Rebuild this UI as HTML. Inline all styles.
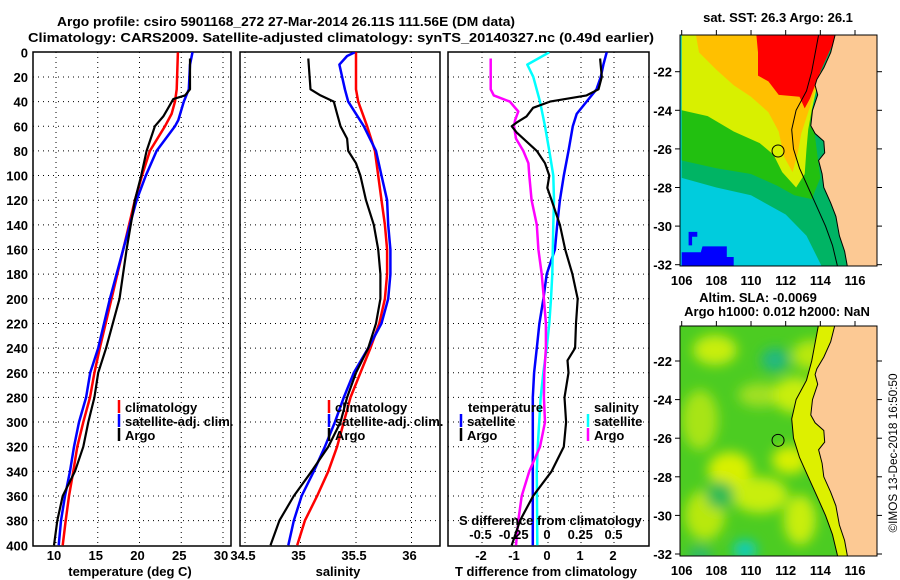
<!DOCTYPE html>
<html><head><meta charset="utf-8"><style>
html,body{margin:0;padding:0;background:#fff;}
svg{display:block;font-family:"Liberation Sans",Arial,sans-serif;}
.t{font-weight:bold;font-size:13px;fill:#000;}
</style></head><body>
<svg id="fig" width="900" height="580" viewBox="0 0 900 580" xmlns="http://www.w3.org/2000/svg">
<defs>
<clipPath id="c1"><rect x="33" y="52" width="198" height="494"/></clipPath>
<clipPath id="c2"><rect x="240" y="52" width="200" height="494"/></clipPath>
<clipPath id="c3"><rect x="448" y="52" width="201" height="494"/></clipPath>
<clipPath id="m1"><rect x="680" y="35" width="197" height="231"/></clipPath>
<clipPath id="m2"><rect x="680" y="326" width="197" height="230"/></clipPath>
<filter id="bl" x="-50%" y="-50%" width="200%" height="200%"><feGaussianBlur stdDeviation="6"/></filter>
</defs>
<text class="t" x="57" y="26" font-size="14" textLength="458" lengthAdjust="spacingAndGlyphs">Argo profile: csiro 5901168_272 27-Mar-2014 26.11S 111.56E (DM data)</text>
<text class="t" x="28" y="42" font-size="14" textLength="626" lengthAdjust="spacingAndGlyphs">Climatology: CARS2009. Satellite-adjusted climatology: synTS_20140327.nc (0.49d earlier)</text>
<g id="panels"></g>
<g id="maps"></g>
<text transform="translate(897,453) rotate(-90)" text-anchor="middle" font-size="12" textLength="159" lengthAdjust="spacingAndGlyphs">©IMOS 13-Dec-2018 16:50:50</text>
</svg>
<script>
// ---------- data ----------
const depthTicks=[0,20,40,60,80,100,120,140,160,180,200,220,240,260,280,300,320,340,360,380,400];
const tempTicks=[10,15,20,25,30];
const salTicks=[34.5,35,35.5,36];
const salTickLabels=["34.5","35","35.5","36"];
const tdiffTicks=[-2,-1,0,1,2];
const sdiffTicks=[-0.5,-0.25,0,0.25,0.5];
const sdiffTickLabels=["-0.5","-0.25","0","0.25","0.5"];

const tClimDepth=[0,30,40,50,60,80,100,120,160,200,240,260,280,300,320,340,360,380,400];
const tClim=[24.6,24.45,24.25,23.85,23.05,21.25,20.3,19.45,18.05,16.65,15.25,14.6,14.07,13.27,12.55,12.07,11.56,11.16,10.8];
const tSatDepth=[0,10,30,40,55,60,80,100,120,160,200,240,260,280,300,320,340,360,380,400];
const tSat=[26.35,26.05,25.9,25.3,24.65,24.25,22.05,20.75,19.65,18.05,16.45,15.05,14.1,13.6,12.75,12.15,11.68,11.08,10.6,10.32];
const tArgoDepth=[5,30,35,38,45,52,60,80,100,120,160,200,240,260,280,300,320,340,360,380,400];
const tArgo=[26.05,26.05,25.45,24.05,23.45,22.85,21.85,20.85,20.2,19.45,18.45,17.6,16.0,15.05,14.6,13.87,13.27,12.27,10.8,10.16,9.76];

const sClimDepth=[0,30,40,60,80,100,120,140,160,180,200,220,240,260,280,300,320,340,360,380,400];
const sClim=[35.5,35.5,35.52,35.6,35.67,35.7,35.73,35.76,35.78,35.78,35.76,35.71,35.63,35.54,35.45,35.39,35.33,35.25,35.15,35.04,34.97];
const sSatDepth=[0,3,10,30,40,60,80,100,120,140,160,180,200,220,240,260,280,300,320,340,360,380,400];
const sSat=[35.49,35.42,35.35,35.4,35.43,35.57,35.68,35.73,35.78,35.79,35.81,35.81,35.79,35.73,35.61,35.48,35.39,35.31,35.22,35.12,35.01,34.94,34.89];
const sArgoDepth=[5,30,35,40,50,60,70,80,90,100,120,140,160,180,200,220,240,260,280,300,320,340,360,380,400];
const sArgo=[35.07,35.09,35.18,35.3,35.33,35.36,35.42,35.43,35.5,35.54,35.59,35.66,35.7,35.72,35.72,35.68,35.61,35.5,35.42,35.36,35.25,35.1,34.94,34.81,34.73];

const dTSatDepth=[0,10,20,30,40,50,60,80,100,120,140,160,180,200,220,240,260,280,400];
const dTSat=[1.78,1.68,1.6,1.47,1.17,0.87,0.75,0.62,0.48,0.36,0.28,0.21,-0.04,-0.14,-0.26,-0.34,-0.42,-0.46,-0.46];
const dTArgoDepth=[5,20,30,35,40,45,52,57,60,65,80,90,100,110,120,140,160,180,200,220,240,250,260,280,300,320,340,360,380,400];
const dTArgo=[1.58,1.63,1.53,1.17,0.06,-0.45,-0.65,-0.95,-1.1,-0.95,-0.34,-0.09,0.04,-0.02,0.11,0.36,0.52,0.74,0.9,0.85,0.82,0.59,0.62,0.5,0.55,0.48,0.11,-0.45,-0.85,-1.1];
const dSSatDepth=[0,10,20,40,60,80,100,120,140,180,200,220,240,260,280,320,340,400];
const dSSat=[0.017,-0.148,-0.103,-0.053,-0.015,0.017,0.047,0.053,0.047,0.04,0.03,0.017,-0.002,-0.028,-0.047,-0.07,-0.077,-0.073];
const dSArgoDepth=[5,30,35,40,48,55,60,70,80,90,100,120,140,160,180,200,220,240,260,280,300,320,340,360,380,400];
const dSArgo=[-0.423,-0.423,-0.4,-0.28,-0.216,-0.24,-0.248,-0.233,-0.178,-0.14,-0.133,-0.116,-0.077,-0.065,-0.04,-0.023,-0.008,-0.008,-0.02,-0.023,-0.015,-0.053,-0.133,-0.19,-0.216,-0.233];

const lonTicks=[106,108,110,112,114,116];
const latTicks=[-22,-24,-26,-28,-30,-32];
const argoLon=111.56, argoLat=-26.11;

// ---------- helpers ----------
const NS="http://www.w3.org/2000/svg";
function mk(tag,attrs,parent){const e=document.createElementNS(NS,tag);for(const k in attrs)e.setAttribute(k,attrs[k]);parent.appendChild(e);return e;}
function txt(s,attrs,parent){const e=mk('text',attrs,parent);e.textContent=s;return e;}
const yD=d=>52.3+d*1.2325;
const xT=t=>56+(t-10)*8.35;
const xS=s=>245+(s-34.5)*111;
const xDT=t=>548+t*33;
const xDS=s=>547+s*133;

const P=document.getElementById('panels');
function frame(x0,x1,xticks,xfn,name){
  const g=mk('g',{},P);
  
  
  depthTicks.forEach(d=>{if(d>0&&d<400)mk('line',{x1:x0,x2:x1,y1:yD(d),y2:yD(d),stroke:'#000','stroke-width':1,'stroke-dasharray':'1,4'},g);});
  xticks.forEach(t=>{const x=xfn(t);if(x>x0+2&&x<x1-2)mk('line',{x1:x,x2:x,y1:52,y2:546,stroke:'#000','stroke-width':1,'stroke-dasharray':'1,4'},g);});
  const r=mk('rect',{x:x0,y:52,width:x1-x0,height:494,fill:'none',stroke:'#000','stroke-width':1.5},P);
  
  
}
function series(dep,val,xfn,color,w,clip,name){
  const pts=dep.map((d,i)=>xfn(val[i]).toFixed(1)+','+yD(d).toFixed(1)).join(' ');
  const p=mk('polyline',{points:pts,fill:'none',stroke:color,'stroke-width':w,'stroke-linejoin':'round','clip-path':'url(#'+clip+')'},P);
  
  
}
function legend(x,y,color,label,name){
  const g=mk('g',{},P);
  
  
  mk('line',{x1:x,x2:x,y1:y-7,y2:y+6,stroke:color,'stroke-width':2.5},g);
  txt(label,{x:x+6,y:y+5,class:'t'},g);
}

// Panel 1 temperature
frame(33,231,tempTicks,xT,'temperature-panel');
depthTicks.forEach(d=>{const e=txt(String(d),{x:28,y:yD(d)+5,'text-anchor':'end',class:'t'},P);
  
  });
tempTicks.forEach(t=>{const e=txt(String(t),{x:xT(t)-2,y:560,'text-anchor':'middle',class:'t'},P);
  
  });
txt('temperature (deg C)',{x:130,y:576,'text-anchor':'middle',class:'t'},P);
series(tClimDepth,tClim,xT,'#ff0000',2.5,'c1','temp-climatology-line');
series(tSatDepth,tSat,xT,'#0000ff',2.5,'c1','temp-satellite-line');
series(tArgoDepth,tArgo,xT,'#000000',2.2,'c1','temp-argo-line');
legend(119,407,'#ff0000','climatology','temp-legend-climatology');
legend(119,421,'#0000ff','satellite-adj. clim.','temp-legend-satellite');
legend(119,435,'#000000','Argo','temp-legend-argo');

// Panel 2 salinity
frame(240,440,salTicks,xS,'salinity-panel');
salTicks.forEach((s,i)=>{const e=txt(salTickLabels[i],{x:xS(s)-2,y:560,'text-anchor':'middle',class:'t'},P);
  
  });
txt('salinity',{x:338,y:576,'text-anchor':'middle',class:'t'},P);
series(sClimDepth,sClim,xS,'#ff0000',2.5,'c2','sal-climatology-line');
series(sSatDepth,sSat,xS,'#0000ff',2.5,'c2','sal-satellite-line');
series(sArgoDepth,sArgo,xS,'#000000',2.2,'c2','sal-argo-line');
legend(329,407,'#ff0000','climatology','sal-legend-climatology');
legend(329,421,'#0000ff','satellite-adj. clim.','sal-legend-satellite');
legend(329,435,'#000000','Argo','sal-legend-argo');

// Panel 3 differences
frame(448,649,tdiffTicks,xDT,'difference-panel');
series(dTSatDepth,dTSat,xDT,'#0000ff',2.5,'c3','tdiff-satellite-line');
series(dSSatDepth,dSSat,xDS,'#00ffff',2.5,'c3','sdiff-satellite-line');
series(dSArgoDepth,dSArgo,xDS,'#ff00ff',2.5,'c3','sdiff-argo-line');
series(dTArgoDepth,dTArgo,xDT,'#000000',2.2,'c3','tdiff-argo-line');
tdiffTicks.forEach(t=>{const e=txt(String(t),{x:xDT(t)-1,y:560,'text-anchor':'middle',class:'t'},P);
  
  });
sdiffTicks.forEach((s,i)=>{const e=txt(sdiffTickLabels[i],{x:xDS(s),y:539,'text-anchor':'middle',class:'t'},P);
  
  });
txt('S difference from climatology',{x:459,y:525,class:'t'},P);
txt('T difference from climatology',{x:546,y:576,'text-anchor':'middle',class:'t'},P);
txt('temperature',{x:468,y:412,class:'t'},P);
legend(461,421,'#0000ff','satellite','tdiff-legend-satellite');
legend(461,435,'#000000','Argo','tdiff-legend-argo');
txt('salinity',{x:594,y:412,class:'t'},P);
legend(588,421,'#00ffff','satellite','sdiff-legend-satellite');
legend(588,435,'#ff00ff','Argo','sdiff-legend-argo');

// ---------- maps ----------
const M=document.getElementById('maps');
const mxf=lon=>681.7+(lon-106)*17.33;
function poly(pts,yf,fill,parent,extra){const s=pts.map(p=>mxf(p[0]).toFixed(1)+','+yf(p[1]).toFixed(1)).join(' ');
  const a={points:s,fill:fill};if(extra)for(const k in extra)a[k]=extra[k];return mk('polygon',a,parent);}
function pline(pts,yf,parent){const s=pts.map(p=>mxf(p[0]).toFixed(1)+','+yf(p[1]).toFixed(1)).join(' ');
  return mk('polyline',{points:s,fill:'none',stroke:'#000','stroke-width':1},parent);}
const coast=[[114.85,-20.1],[114.6,-21.0],[114.2,-21.8],[113.8,-22.4],[113.7,-22.7],[113.85,-23.2],[113.55,-24.0],[113.45,-24.8],[113.7,-25.2],[114.2,-25.6],[114.25,-26.2],[113.9,-26.6],[114.1,-27.3],[114.2,-28.0],[114.6,-28.8],[114.9,-29.5],[115.1,-30.5],[115.4,-31.3],[115.6,-32.3]];
const landPts=coast.concat([[117.5,-32.3],[117.5,-20.1]]);
const shelf=[[113.9,-20.1],[113.5,-22],[113.2,-23],[112.6,-24],[112.35,-25],[112.45,-26],[112.8,-27],[113.3,-28],[113.8,-29],[114.3,-30],[114.7,-31],[115.05,-32.3]];

function mapAxes(yf,top,bottom,name){
  const g=mk('g',{},M);
  
  
  mk('rect',{x:680,y:top,width:197,height:bottom-top,fill:'none',stroke:'#000','stroke-width':1},g);
  lonTicks.forEach(l=>{const x=mxf(l);mk('line',{x1:x,x2:x,y1:top,y2:top-5,stroke:'#000'},g);
    txt(String(l),{x:x,y:bottom+19,'text-anchor':'middle',class:'t','font-size':14},g);});
  latTicks.forEach(l=>{const y=yf(l);mk('line',{x1:680,x2:675,y1:y,y2:y,stroke:'#000'},g);
    mk('line',{x1:877,x2:882,y1:y,y2:y,stroke:'#000'},g);
    txt(String(l),{x:672,y:y+5,'text-anchor':'end',class:'t'},g);});
  const c=mk('circle',{cx:mxf(argoLon),cy:yf(argoLat),r:6,fill:'none',stroke:'#000','stroke-width':1},M);
  
  
}

// Map 1 SST
const y1=lat=>71.7+(-22-lat)*19.3;
const g1=mk('g',{'clip-path':'url(#m1)'},M);


mk('rect',{x:680,y:35,width:197,height:231,fill:'#00ccdd'},g1);
poly([[106,-20],[106,-27.5],[108,-28],[110,-28.4],[112,-29.4],[113.2,-30.5],[114.2,-32.3],[118,-32.3],[118,-20]],y1,'#00b464',g1);
poly([[106,-23.8],[106,-26.6],[108,-27],[110,-27.3],[111.5,-27.9],[112.5,-28.4],[113.5,-28.6],[114,-27.5],[113.5,-24],[112,-24]],y1,'#22c010',g1);
poly([[106,-20],[106,-24],[107.5,-24.3],[109,-25.1],[110.5,-25.7],[111.3,-26.3],[111.8,-27.2],[112.6,-28.0],[113.1,-27.3],[113.2,-26],[113.3,-25],[113.5,-24],[114,-22],[114,-20]],y1,'#d8f000',g1);
poly([[106.8,-20],[107,-21],[108,-21.9],[109,-22.7],[110,-23.3],[111,-24.1],[111.6,-25.1],[111.9,-26.4],[112.4,-27.2],[112.7,-26.2],[112.9,-25.2],[113.3,-24.1],[114,-22],[114,-20]],y1,'#ffc000',g1);
poly([[110.3,-20],[110.4,-21],[110.4,-22.2],[111,-22.5],[111.6,-23.2],[112.8,-23.3],[113.1,-23.9],[113.4,-23.4],[114,-22],[115,-20]],y1,'#ff0000',g1);
poly([[106,-31.35],[107.1,-31.35],[107.2,-31.05],[108.6,-31.05],[108.6,-31.6],[109,-31.6],[109,-32.4],[106,-32.4]],y1,'#0000ff',g1);
poly([[106.4,-30.3],[106.9,-30.3],[106.9,-30.55],[106.6,-30.55],[106.6,-31.0],[106.4,-31.0]],y1,'#0000ff',g1);
poly(landPts,y1,'#fcc994',g1,{stroke:'#000','stroke-width':1});
pline(shelf,y1,g1);
mapAxes(y1,35,266,'sst-map');
txt('sat. SST: 26.3 Argo: 26.1',{x:778,y:22,'text-anchor':'middle',class:'t'},M);

// Map 2 SLA
const y2=lat=>361+(-22-lat)*19.3;
const g2=mk('g',{'clip-path':'url(#m2)'},M);


mk('rect',{x:680,y:326,width:197,height:230,fill:'#4ccc22'},g2);
const gb=mk('g',{filter:'url(#bl)'},g2);
[[715,350,22,15,'#c8ee10'],[700,420,18,30,'#a8e418'],[760,395,22,12,'#a0e020'],[795,395,22,18,'#c8ee10'],[730,470,22,18,'#d8f000'],[790,460,18,14,'#d8f000'],[760,495,28,18,'#c8ee10'],[705,515,20,25,'#b8e810'],[800,520,16,25,'#c8ee10'],[812,355,20,15,'#b8e810']].forEach(b=>mk('ellipse',{cx:b[0],cy:b[1],rx:b[2],ry:b[3],fill:b[4]},gb));
[[775,360,14,12,'#22b880'],[745,550,12,10,'#11ccbb'],[720,495,14,14,'#33bb55'],[700,555,12,10,'#33bb66']].forEach(b=>mk('ellipse',{cx:b[0],cy:b[1],rx:b[2],ry:b[3],fill:b[4]},gb));
poly(shelf.concat(coast.slice().reverse()),y2,'#ddf000',g2);
poly(landPts,y2,'#fcc994',g2,{stroke:'#000','stroke-width':1});
pline(shelf,y2,g2);
mapAxes(y2,326,556,'sla-map');
txt('Altim. SLA: -0.0069',{x:758,y:302,'text-anchor':'middle',class:'t'},M);
txt('Argo h1000: 0.012 h2000: NaN',{x:777,y:316,'text-anchor':'middle',class:'t'},M);
</script>
</body></html>
